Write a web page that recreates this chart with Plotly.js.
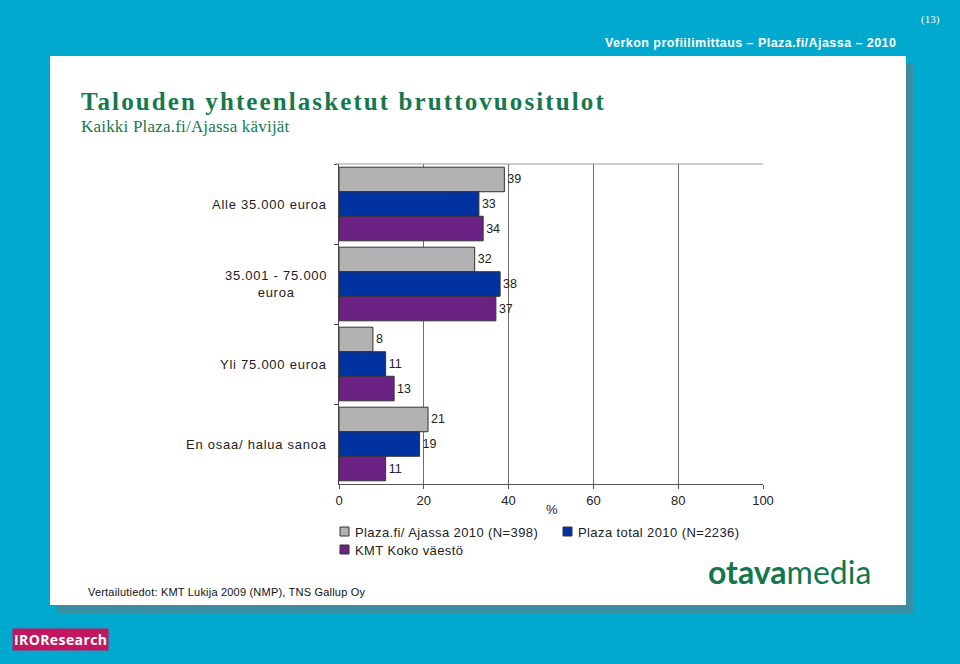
<!DOCTYPE html>
<html>
<head>
<meta charset="utf-8">
<script src="https://cdn.plot.ly/plotly-3.0.1.min.js"></script>
<style>
html,body{margin:0;padding:0;background:#00a9cd;}
#chart{width:960px;height:664px;}
</style>
</head>
<body>
<div id="chart"></div>
<script>
// ---- data ----
const categories = ["Alle 35.000 euroa", "35.001 - 75.000<br>euroa", "Yli 75.000 euroa", "En osaa/ halua sanoa"];
const seriesNames = ["Plaza.fi/ Ajassa 2010 (N=398)", "Plaza total 2010 (N=2236)", "KMT Koko väestö"];
const plazaAjassa = [39, 32, 8, 21];
const plazaTotal = [33, 38, 11, 19];
const kmtKoko = [34, 37, 13, 11];
const xTickVals = [0, 20, 40, 60, 80, 100];
const xTickText = ["0", "20", "40", "60", "80", "100"];

const seriesValues = [plazaAjassa, plazaTotal, kmtKoko];
const colors = ["#b2b2b2", "#0033a0", "#6b2284"];

// ---- layout helpers (pixel -> paper) ----
const L = 339, R = 763, T = 164, B = 484;
const W = 960, H = 664;
const px = x => (x - L) / (R - L);
const py = y => (B - y) / (B - T);
const sp = (txt, ls) => txt.split("<br>").map(t => `<span style="letter-spacing:${ls}px">${t}</span>`).join("<br>");

const font = "Arial, 'Liberation Sans', sans-serif";

const traces = seriesValues.map((vals, i) => ({
  type: "bar",
  orientation: "h",
  name: seriesNames[i],
  y: categories,
  x: vals,
  text: vals.map(String),
  textposition: "outside",
  textfont: {family: font, size: 12.5, color: "#222"},
  cliponaxis: false,
  marker: {color: colors[i], line: {color: "#333", width: 1}},
  showlegend: false,
  hoverinfo: "x+y"
}));

const shapes = [
  // shadow
  {type: "rect", xref: "paper", yref: "paper", layer: "below",
   x0: px(57), x1: px(913), y0: py(63), y1: py(613), fillcolor: "#3b8da2", line: {width: 0}},
  // white panel
  {type: "rect", xref: "paper", yref: "paper", layer: "below",
   x0: px(50), x1: px(906), y0: py(56), y1: py(605), fillcolor: "#ffffff", line: {width: 0}},
  // top border of plot
  {type: "line", xref: "paper", yref: "paper", x0: px(336), x1: 1, y0: 1, y1: 1,
   line: {color: "#999", width: 1}}
];

const annotations = [];

// y category labels
categories.forEach((c, i) => {
  annotations.push({
    xref: "paper", yref: "y", x: px(329), y: c, text: sp(c, 0.75),
    xanchor: "right", yanchor: "middle", align: "center", showarrow: false,
    font: {family: font, size: 13, color: "#222"}
  });
});

// custom legend
const legendPos = [[340, 532], [563, 532], [340, 550]];
seriesNames.forEach((n, i) => {
  const [lx, ly] = legendPos[i];
  shapes.push({type: "rect", xref: "paper", yref: "paper",
    x0: px(lx), x1: px(lx + 9), y0: py(ly - 5), y1: py(ly + 4),
    fillcolor: colors[i], line: {color: "#333", width: 1}});
  annotations.push({xref: "paper", yref: "paper", x: px(lx + 13), y: py(ly),
    text: sp(n, 0.4), xanchor: "left", yanchor: "middle", showarrow: false,
    font: {family: font, size: 13, color: "#222"}});
});

// % label
annotations.push({xref: "paper", yref: "paper", x: px(552), y: py(509), text: "%",
  showarrow: false, xanchor: "center", yanchor: "middle",
  font: {family: font, size: 13, color: "#222"}});

// titles
annotations.push({xref: "paper", yref: "paper", x: px(79), y: py(102),
  text: "<b>" + sp("Talouden yhteenlasketut bruttovuositulot", 2.1) + "</b>", showarrow: false,
  xanchor: "left", yanchor: "middle", align: "left",
  font: {family: "'Liberation Serif', 'DejaVu Serif', serif", size: 25, color: "#16784f"}});
annotations.push({xref: "paper", yref: "paper", x: px(79), y: py(126),
  text: sp("Kaikki Plaza.fi/Ajassa kävijät", 0.2), showarrow: false,
  xanchor: "left", yanchor: "middle", align: "left",
  font: {family: "'Liberation Serif', serif", size: 17, color: "#16784f"}});

// header
annotations.push({xref: "paper", yref: "paper", x: px(898), y: py(43),
  text: "<b>" + sp("Verkon profiilimittaus – Plaza.fi/Ajassa – 2010", 0.45) + "</b>", showarrow: false,
  xanchor: "right", yanchor: "middle",
  font: {family: font, size: 12.5, color: "#ffffff"}});
annotations.push({xref: "paper", yref: "paper", x: px(942), y: py(19),
  text: "(13)", showarrow: false, xanchor: "right", yanchor: "middle",
  font: {family: "'Liberation Serif', serif", size: 11, color: "#ffffff"}});

// footnote
annotations.push({xref: "paper", yref: "paper", x: px(86), y: py(592),
  text: sp("Vertailutiedot: KMT Lukija 2009 (NMP), TNS Gallup Oy", 0.2), showarrow: false,
  xanchor: "left", yanchor: "middle", align: "left",
  font: {family: font, size: 11, color: "#111"}});

// logos as text
annotations.push({xref: "paper", yref: "paper", x: px(706), y: py(571),
  text: "<b>otava</b>media", showarrow: false, xanchor: "left", yanchor: "middle",
  font: {family: "Lato, 'Noto Sans', sans-serif", size: 32, color: "#13774d"}});
annotations.push({xref: "paper", yref: "paper", x: px(12), y: py(639),
  text: "<b>" + sp("IROResearch", 0.4) + "</b>", showarrow: false, xanchor: "left", yanchor: "middle",
  bgcolor: "#c2175f", borderpad: 1,
  font: {family: "'Open Sans', 'Noto Sans', sans-serif", size: 14, color: "#ffffff"}});

const layout = {
  width: W, height: H,
  margin: {l: L, r: W - R, t: T, b: H - B, pad: 0},
  paper_bgcolor: "#00a9cd",
  plot_bgcolor: "rgba(0,0,0,0)",
  barmode: "group",
  bargap: 0.08,
  bargroupgap: 0,
  showlegend: false,
  font: {family: font, size: 13, color: "#222"},
  xaxis: {
    range: [0, 100], tickvals: xTickVals, ticktext: xTickText,
    showgrid: true, gridcolor: "#6e6e6e", gridwidth: 1,
    zeroline: false, showline: true, linecolor: "#555", linewidth: 1,
    ticks: "outside", ticklen: 4, tickcolor: "#555",
    tickfont: {family: font, size: 13, color: "#222"},
    fixedrange: true
  },
  yaxis: {
    type: "category", autorange: "reversed",
    showticklabels: false, showgrid: false, zeroline: false,
    showline: true, linecolor: "#444", linewidth: 1,
    ticks: "outside", ticklen: 4, tickcolor: "#444", tickson: "boundaries",
    fixedrange: true
  },
  shapes: shapes,
  annotations: annotations
};

Plotly.newPlot("chart", traces, layout, {displayModeBar: false, staticPlot: true});
</script>
</body>
</html>
